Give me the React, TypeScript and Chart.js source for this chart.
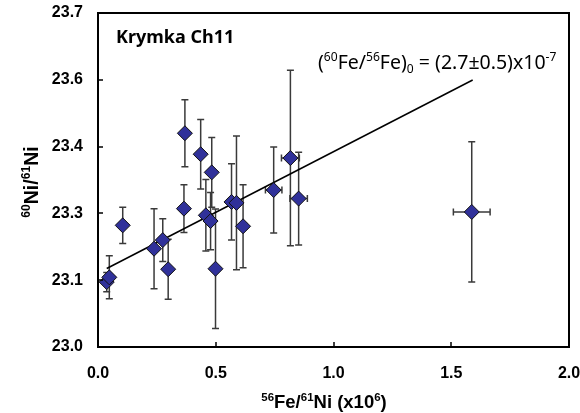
import React, { useEffect, useRef } from 'react';
import { Chart, registerables } from 'chart.js';

Chart.register(...registerables);

// 56Fe/61Ni (x10^6)
const feNi = [0.037, 0.048, 0.105, 0.238, 0.275, 0.298, 0.369, 0.365, 0.436, 0.483, 0.458, 0.478, 0.499, 0.567, 0.588, 0.616, 0.746, 0.817, 0.852, 1.587];
// 60Ni/61Ni
const niNi = [23.136, 23.146, 23.255, 23.206, 23.224, 23.163, 23.448, 23.290, 23.404, 23.366, 23.276, 23.264, 23.164, 23.304, 23.302, 23.253, 23.329, 23.396, 23.311, 23.283];
const yErr = [0.02, 0.045, 0.038, 0.084, 0.045, 0.063, 0.07, 0.05, 0.073, 0.073, 0.075, 0.06, 0.125, 0.08, 0.14, 0.087, 0.09, 0.184, 0.097, 0.147];
const xErr = [0.005, 0.005, 0.005, 0.01, 0.01, 0.01, 0.01, 0.01, 0.01, 0.01, 0.01, 0.01, 0.01, 0.015, 0.015, 0.015, 0.035, 0.038, 0.037, 0.078];

// isochron fit line
const fitX = [0.037, 1.591];
const fitY = [23.1645, 23.5595];

const xTickValues = [0, 0.5, 1.0, 1.5, 2.0];
const xTickLabels = ['0.0', '0.5', '1.0', '1.5', '2.0'];
const yTickValues = [23.0, 23.14, 23.28, 23.42, 23.56, 23.7];
const yTickLabels = ['23.0', '23.1', '23.3', '23.4', '23.6', '23.7'];

type Part = { t: string; sup?: boolean; sub?: boolean };

function drawRich(ctx: CanvasRenderingContext2D, parts: Part[], x: number, y: number, align: 'left' | 'center', size: number, family: string, weight: string) {
  const small = size * 0.62;
  const fontFor = (p: Part) => `${weight} ${p.sup || p.sub ? small : size}px ${family}`;
  const widths = parts.map((p) => {
    ctx.font = fontFor(p);
    return ctx.measureText(p.t).width;
  });
  const total = widths.reduce((a, b) => a + b, 0);
  let cx = align === 'center' ? x - total / 2 : x;
  ctx.textAlign = 'left';
  ctx.textBaseline = 'alphabetic';
  parts.forEach((p, i) => {
    ctx.font = fontFor(p);
    const dy = p.sup ? -size * 0.4 : p.sub ? size * 0.22 : 0;
    ctx.fillText(p.t, cx, y + dy);
    cx += widths[i];
  });
}

const errorBarPlugin = {
  id: 'errorBars',
  beforeDatasetsDraw(chart: any) {
    const { ctx, scales } = chart;
    const xs = scales.x;
    const ys = scales.y;
    ctx.save();
    ctx.strokeStyle = '#3a3a3a';
    ctx.lineWidth = 1.5;
    const cap = 3.5;
    feNi.forEach((v, i) => {
      const px = xs.getPixelForValue(v);
      const py = ys.getPixelForValue(niNi[i]);
      const y1 = ys.getPixelForValue(niNi[i] + yErr[i]);
      const y2 = ys.getPixelForValue(niNi[i] - yErr[i]);
      const x1 = xs.getPixelForValue(v - xErr[i]);
      const x2 = xs.getPixelForValue(v + xErr[i]);
      ctx.beginPath();
      ctx.moveTo(px, y1);
      ctx.lineTo(px, y2);
      ctx.moveTo(px - cap, y1);
      ctx.lineTo(px + cap, y1);
      ctx.moveTo(px - cap, y2);
      ctx.lineTo(px + cap, y2);
      ctx.moveTo(x1, py);
      ctx.lineTo(x2, py);
      ctx.moveTo(x1, py - cap);
      ctx.lineTo(x1, py + cap);
      ctx.moveTo(x2, py - cap);
      ctx.lineTo(x2, py + cap);
      ctx.stroke();
    });
    ctx.restore();
  },
};

const framePlugin = {
  id: 'frameText',
  afterDraw(chart: any) {
    const { ctx, chartArea, scales } = chart;
    const { left, right, top, bottom } = chartArea;
    ctx.save();
    ctx.strokeStyle = '#000';
    ctx.lineWidth = 2;
    ctx.strokeRect(left, top, right - left, bottom - top);
    ctx.lineWidth = 1.5;
    ctx.beginPath();
    yTickValues.forEach((v) => {
      const py = Math.round(scales.y.getPixelForValue(v));
      ctx.moveTo(left, py);
      ctx.lineTo(left + 5, py);
    });
    xTickValues.forEach((v) => {
      const px = Math.round(scales.x.getPixelForValue(v));
      ctx.moveTo(px, bottom);
      ctx.lineTo(px, bottom - 5);
    });
    ctx.stroke();

    ctx.fillStyle = '#000';
    const arial = '"Liberation Sans", Arial, sans-serif';
    const noto = '"Noto Sans", "Open Sans", sans-serif';
    drawRich(ctx, [{ t: 'Krymka Ch11' }], 116, 43, 'left', 18, noto, 'bold');
    drawRich(
      ctx,
      [
        { t: '(' },
        { t: '60', sup: true },
        { t: 'Fe/' },
        { t: '56', sup: true },
        { t: 'Fe)' },
        { t: '0', sub: true },
        { t: ' = (2.7±0.5)x10' },
        { t: '-7', sup: true },
      ],
      318,
      69,
      'left',
      19.5,
      noto,
      'normal'
    );
    drawRich(
      ctx,
      [
        { t: '56', sup: true },
        { t: 'Fe/' },
        { t: '61', sup: true },
        { t: 'Ni (x10' },
        { t: '6', sup: true },
        { t: ')' },
      ],
      324,
      408,
      'center',
      18.5,
      arial,
      'bold'
    );
    ctx.save();
    ctx.translate(38, 182);
    ctx.rotate(-Math.PI / 2);
    drawRich(
      ctx,
      [{ t: '60', sup: true }, { t: 'Ni/' }, { t: '61', sup: true }, { t: 'Ni' }],
      0,
      0,
      'center',
      19.5,
      arial,
      'bold'
    );
    ctx.restore();
    ctx.restore();
  },
};

export default function App() {
  const ref = useRef<HTMLCanvasElement | null>(null);
  useEffect(() => {
    if (!ref.current) return;
    const tickFont = { family: '"Liberation Sans", Arial, sans-serif', size: 16, weight: 'bold' as const };
    const chart = new Chart(ref.current, {
      type: 'scatter',
      data: {
        datasets: [
          {
            type: 'line',
            data: fitX.map((x, i) => ({ x, y: fitY[i] })),
            borderColor: '#000',
            borderWidth: 1.5,
            pointRadius: 0,
            fill: false,
            order: 2,
          } as any,
          {
            type: 'scatter',
            data: feNi.map((x, i) => ({ x, y: niNi[i] })),
            pointStyle: 'rectRot',
            pointRadius: 7.5,
            pointBackgroundColor: '#30319a',
            pointBorderColor: '#111',
            pointBorderWidth: 1,
            order: 1,
          },
        ],
      },
      options: {
        animation: false,
        responsive: false,
        layout: { padding: { left: 0, top: 13, right: 11, bottom: 0 } },
        plugins: { legend: { display: false }, tooltip: { enabled: false } },
        scales: {
          x: {
            type: 'linear',
            min: 0,
            max: 2,
            grid: { display: false, drawTicks: false },
            border: { display: false },
            afterBuildTicks: (s: any) => {
              s.ticks = xTickValues.map((value) => ({ value }));
            },
            afterFit: (s: any) => {
              s.height = 66;
              s.paddingLeft = 0;
              s.paddingRight = 0;
            },
            ticks: {
              autoSkip: false,
              maxRotation: 0,
              padding: 17,
              color: '#000',
              font: tickFont,
              callback: (_v: any, i: number) => xTickLabels[i],
            },
          },
          y: {
            type: 'linear',
            min: 23.0,
            max: 23.7,
            grid: { display: false, drawTicks: false },
            border: { display: false },
            afterBuildTicks: (s: any) => {
              s.ticks = yTickValues.map((value) => ({ value }));
            },
            afterFit: (s: any) => {
              s.width = 98;
              s.paddingTop = 0;
              s.paddingBottom = 0;
            },
            ticks: {
              autoSkip: false,
              padding: 15,
              color: '#000',
              font: tickFont,
              callback: (_v: any, i: number) => yTickLabels[i],
            },
          },
        },
      },
      plugins: [errorBarPlugin, framePlugin],
    });
    return () => chart.destroy();
  }, []);
  return (
    <div style={{ position: 'absolute', left: 0, top: 0, width: 580, height: 413, background: '#fff' }}>
      <canvas ref={ref} width={580} height={413} />
    </div>
  );
}
